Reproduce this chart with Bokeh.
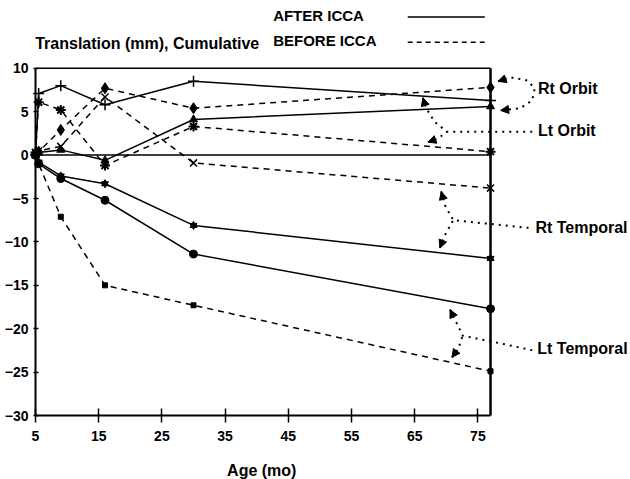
from bokeh.plotting import figure
from bokeh.models import Range1d, FixedTicker, Label, Arrow, NormalHead
from bokeh.embed import file_html
from bokeh.resources import INLINE

# ---- data ----
ages = [5, 5.5, 9, 16, 30, 77]
rt_orbit_after = [0, 7.1, 8.0, 5.8, 8.5, 6.3]
lt_orbit_after = [0, 0.3, 0.6, -0.6, 4.1, 5.6]
rt_temporal_after = [0, -0.8, -2.4, -3.3, -8.1, -11.9]
lt_temporal_after = [0, -1.0, -2.7, -5.2, -11.4, -17.7]
rt_orbit_before = [0, 0.4, 2.9, 7.7, 5.4, 7.8]
lt_orbit_before = [0.3, 6.1, 5.2, -1.2, 3.3, 0.4]
rt_temporal_before = [0, 0.5, 1.0, 6.7, -0.9, -3.8]
lt_temporal_before = [0, -1.0, -7.1, -15.0, -17.3, -24.9]

x_ticks = [5, 15, 25, 35, 45, 55, 65, 75]
y_ticks = [-30, -25, -20, -15, -10, -5, 0, 5, 10]
x_lo, x_hi = 5, 77
y_lo, y_hi = -30, 10

FONT = "Liberation Sans"

p = figure(width=630, height=479, output_backend="svg", toolbar_location=None,
           x_range=Range1d(-0.54, 99.15), y_range=Range1d(-37.37, 17.81),
           min_border_left=0, min_border_right=0, min_border_top=0,
           min_border_bottom=0)
p.outline_line_color = None
p.xgrid.visible = False
p.ygrid.visible = False
p.background_fill_color = "white"
p.border_fill_color = "white"

for ax, ticks, bnds in ((p.xaxis[0], x_ticks, (x_lo, x_hi)), (p.yaxis[0], y_ticks, (y_lo, y_hi))):
    ax.ticker = FixedTicker(ticks=ticks)
    ax.bounds = bnds
    ax.axis_line_width = 2
    ax.axis_line_color = "black"
    ax.major_tick_line_color = "black"
    ax.major_tick_line_width = 1.5
    ax.minor_tick_line_color = None
    ax.major_label_text_font = FONT
    ax.major_label_text_font_style = "bold"
    ax.major_label_text_font_size = "14px"
    ax.major_label_text_color = "black"
p.xaxis.fixed_location = y_lo
p.yaxis.fixed_location = x_lo
p.xaxis.major_tick_in = 7
p.xaxis.major_tick_out = 7
p.xaxis.major_label_standoff = 8
p.yaxis.major_tick_in = 3
p.yaxis.major_tick_out = 2
p.yaxis.major_label_standoff = 5

# frame borders (top thin, right thick) and zero line
p.line([x_lo, x_hi], [y_hi, y_hi], line_color="black", line_width=1.5)
p.line([x_hi, x_hi], [y_lo, y_hi], line_color="black", line_width=2.5)
p.line([x_lo, x_hi], [0, 0], line_color="black", line_width=1.5)

solid = dict(line_color="black", line_width=1.5)
dashed = dict(line_color="black", line_width=1.5, line_dash="6 5")

# AFTER ICCA (solid)
p.line(ages, rt_orbit_after, **solid)
p.scatter(ages, rt_orbit_after, marker="cross", size=11, line_color="black", line_width=1.5)
p.line(ages, lt_orbit_after, **solid)
p.scatter(ages, lt_orbit_after, marker="triangle", size=8, color="black")
p.line(ages, rt_temporal_after, **solid)
p.scatter(ages, rt_temporal_after, marker="triangle", size=7, color="black")
p.scatter(ages, rt_temporal_after, marker="inverted_triangle", size=7, color="black")
p.line(ages, lt_temporal_after, **solid)
p.scatter(ages, lt_temporal_after, marker="circle", size=8, color="black")

# BEFORE ICCA (dashed)
p.line(ages, rt_orbit_before, **dashed)
p.scatter(ages, rt_orbit_before, marker="diamond", size=11, color="black")
p.line(ages, lt_orbit_before, **dashed)
p.scatter(ages, lt_orbit_before, marker="asterisk", size=10, line_color="black", line_width=2)
p.line(ages, rt_temporal_before, **dashed)
p.scatter(ages, rt_temporal_before, marker="x", size=10, line_color="black", line_width=1.5)
p.line(ages, lt_temporal_before, **dashed)
p.scatter(ages, lt_temporal_before, marker="square", size=5, color="black")

# ---- annotation callouts (dotted, with arrow heads at the first point) ----
dot = dict(line_color="black", line_width=2, line_dash="2 5")
callouts = [
    [(78.2, 8.5), (80.1, 8.96), (82.8, 8.6), (84.0, 7.7), (83.6, 6.3), (81.7, 5.4), (78.6, 5.15)],
    [(66.3, 6.6), (66.8, 5.4), (68.2, 3.8), (70.1, 2.7), (83.7, 2.7)],
    [(67.1, 1.5), (68.7, 1.9), (70.1, 2.7)],
    [(69.2, -4.2), (69.8, -5.8), (71.1, -7.5), (83.3, -8.4)],
    [(69.0, -10.7), (69.8, -9.2), (71.1, -7.5)],
    [(70.6, -17.8), (71.4, -19.0), (72.6, -20.8), (78.0, -21.6), (83.7, -22.5)],
    [(70.9, -23.3), (71.9, -22.3), (72.6, -20.8)],
]
def head(x0, y0, x1, y1):
    p.add_layout(Arrow(end=NormalHead(size=8, fill_color="black", line_color="black"),
                       x_start=x0, y_start=y0, x_end=x1, y_end=y1, line_alpha=0))

for path in callouts:
    xs = [pt[0] for pt in path]
    ys = [pt[1] for pt in path]
    p.line(xs, ys, **dot)
    head(xs[1], ys[1], xs[0], ys[0])
# closing head of the Rt Orbit bracket
rx = [pt[0] for pt in callouts[0]]
ry = [pt[1] for pt in callouts[0]]
head(rx[-2], ry[-2], rx[-1], ry[-1])

def text(x, y, s, size="16px", align="left"):
    p.add_layout(Label(x=x, y=y, text=s, text_font=FONT, text_font_style="bold",
                       text_font_size=size, text_align=align, text_baseline="middle",
                       text_color="black"))

text(84.5, 7.7, "Rt Orbit")
text(84.5, 2.8, "Lt Orbit")
text(84.1, -8.3, "Rt Temporal")
text(84.4, -22.3, "Lt Temporal")

# titles / legend
text(4.95, 12.9, "Translation (mm), Cumulative", size="16px")
text(42.6, 16.1, "AFTER ICCA", size="15px")
text(42.6, 13.2, "BEFORE ICCA", size="15px")
p.line([63.9, 76.1], [15.9, 15.9], line_color="black", line_width=1.5)
p.line([63.9, 76.1], [13.0, 13.0], line_color="black", line_width=1.5, line_dash="5 4")
text(40.8, -36.3, "Age (mo)", size="16px", align="center")

open("out.html", "w").write(file_html(p, INLINE))
